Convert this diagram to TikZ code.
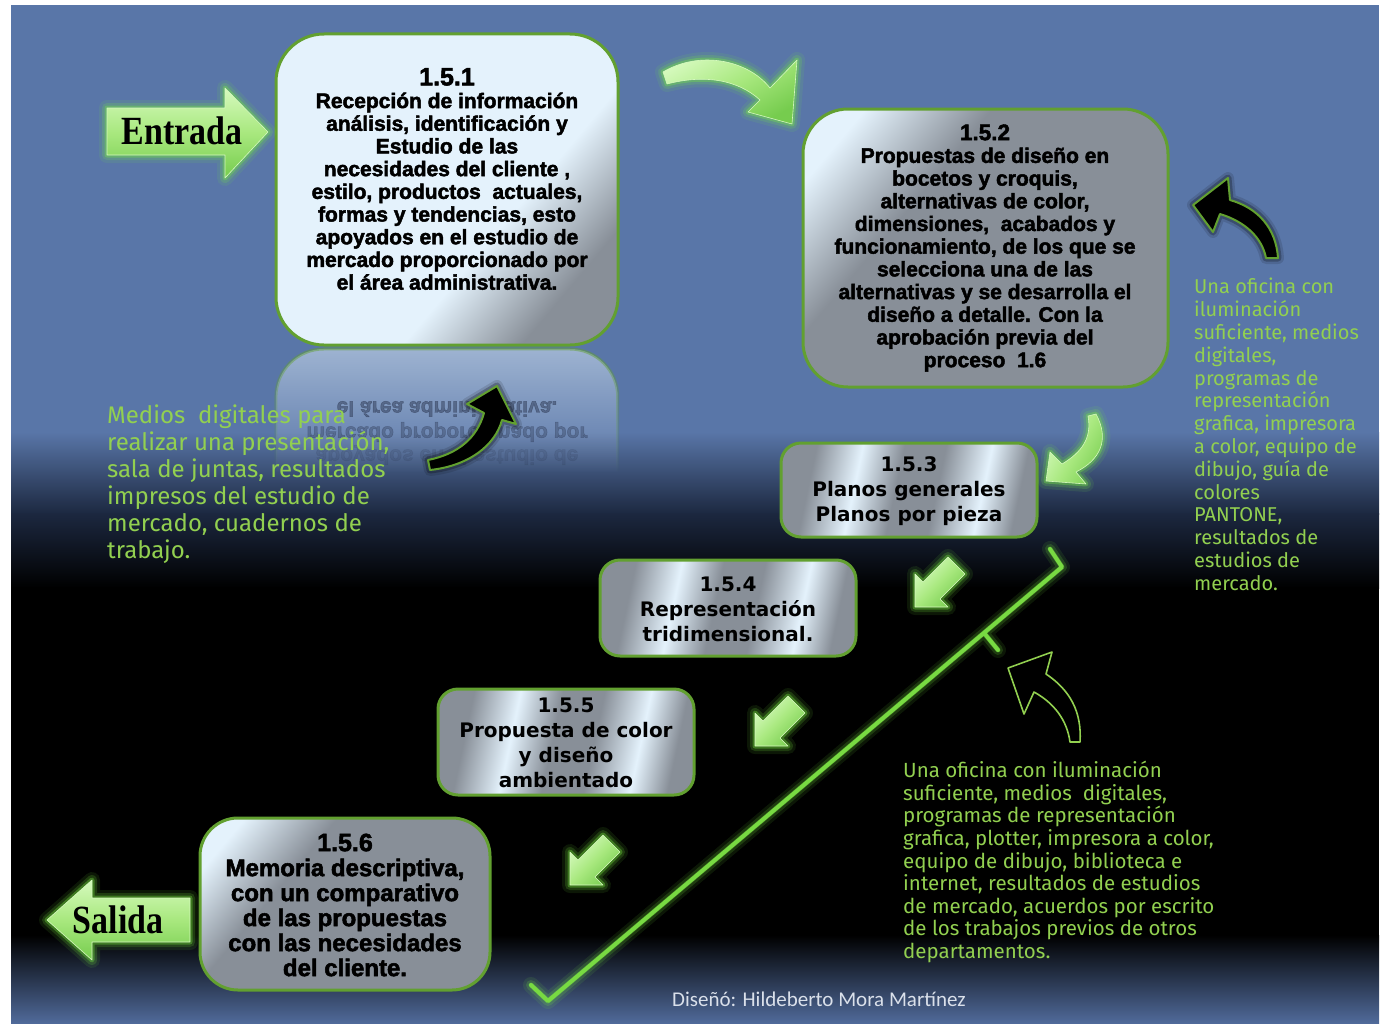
\documentclass[tikz,border=0pt]{standalone}
\usepackage{fontspec}
\usepackage{graphicx}
\setmainfont{Liberation Sans}
\newfontfamily\arialfont{Liberation Sans Bold}[FakeBold=2.2]
\newfontfamily\verdfont{DejaVu Sans}
\newfontfamily\serifcond{Liberation Serif}[FakeStretch=0.85]
\newfontfamily\handfont{Fira Sans}
\newfontfamily\calfont{Carlito}
\usetikzlibrary{fadings}

\definecolor{bgblue}{RGB}{89,118,168}
\definecolor{bgdeep}{RGB}{28,40,64}
\definecolor{bgfoot}{RGB}{80,106,154}
\definecolor{lgreen}{RGB}{146,208,80}
\definecolor{edgegreen}{RGB}{98,160,48}
\definecolor{glowc}{RGB}{118,232,64}
\definecolor{linegreen}{RGB}{120,218,66}
\definecolor{boxlt}{RGB}{228,242,252}
\definecolor{boxgr}{RGB}{136,143,152}
\definecolor{arrowlt}{RGB}{214,250,190}
\definecolor{arrowmid}{RGB}{168,232,126}
\definecolor{arrowdk}{RGB}{118,204,78}
\definecolor{mirrortext}{RGB}{38,48,74}
\definecolor{footc}{RGB}{218,224,234}

% box fillings: light corner, dark corner, brushed metal
\pgfdeclarehorizontalshading{shOne}{100bp}{color(0bp)=(boxlt); color(60bp)=(boxlt); color(74bp)=(boxgr); color(100bp)=(boxgr)}
\pgfdeclarehorizontalshading{shTwo}{100bp}{color(0bp)=(boxlt); color(22bp)=(boxlt); color(37bp)=(boxgr); color(100bp)=(boxgr)}
\pgfdeclarehorizontalshading{shMetal}{100bp}{color(0bp)=(boxgr); color(28bp)=(boxgr); color(38bp)=(boxlt); color(47bp)=(boxgr); color(56bp)=(boxgr); color(66bp)=(boxlt); color(74bp)=(boxgr); color(100bp)=(boxgr)}

\tikzfading[name=fadedown, top color=transparent!50, bottom color=transparent!100]

\tikzset{
  procbox/.style={draw=edgegreen, line width=3pt},
  glow/.style={
    preaction={draw=glowc, line width=16pt, draw opacity=.10, line join=round, line cap=round},
    preaction={draw=glowc, line width=10pt, draw opacity=.18, line join=round, line cap=round},
    preaction={draw=glowc, line width=5pt, draw opacity=.35, line join=round, line cap=round}},
  darkglow/.style={
    preaction={draw=black, line width=12pt, draw opacity=.12, line join=round},
    preaction={draw=black, line width=7pt, draw opacity=.25, line join=round}},
  greenarrow/.style={glow, top color=arrowlt, bottom color=arrowdk, middle color=arrowmid,
    draw=arrowlt, line width=.6pt, line join=round},
  blackarrow/.style={darkglow, fill=black, draw=edgegreen, line width=2pt, line join=round},
  boxtext/.style={align=center, inner sep=0pt, text=black},
  handtext/.style={align=left, anchor=north west, inner sep=0pt, text=lgreen},
  pics/slantarrow/.style={code={
    \path[greenarrow, shading angle=45] (0,0) -- (33,0) -- (25,-8) -- (50,-33)
      -- (33,-50) -- (8,-25) -- (0,-33) -- cycle;}}
}

\begin{document}
\begin{tikzpicture}[x=1pt, y=-1pt]
\useasboundingbox (0,0) rectangle (1384,1025);

% slide background
\fill[white] (0,0) rectangle (1384,1025);
\fill[bgblue] (11,5) rectangle (1379,1023);
\shade[top color=bgblue, bottom color=bgdeep] (11,432) rectangle (1379,514);
\shade[top color=bgdeep, bottom color=black] (11,513) rectangle (1379,588);
\fill[black] (11,587) rectangle (1379,936);
\shade[top color=black, bottom color=bgfoot] (11,935) rectangle (1379,1023);

% mirror image under the first box
\path[fill=boxlt, draw=edgegreen, line width=3pt, path fading=fadedown, rounded corners=48pt]
  (276,472) -- (276,349) -- (618,349) -- (618,472);
\node[boxtext, font=\arialfont\fontsize{21}{22.7}\selectfont, text=mirrortext, opacity=.45]
  (m1) at (447,409) {\scalebox{1}[-1]{el área administrativa.}};
\node[boxtext, font=\arialfont\fontsize{21}{22.7}\selectfont, text=mirrortext, opacity=.32]
  (m2) at (447,432) {\scalebox{1}[-1]{mercado proporcionado por}};
\node[boxtext, font=\arialfont\fontsize{21}{22.7}\selectfont, text=mirrortext, opacity=.14]
  (m3) at (447,455) {\scalebox{1}[-1]{apoyados en el estudio de}};

% process boxes
\node[procbox, rounded corners=48pt, minimum width=342pt, minimum height=311pt,
  shading=shOne, shading angle=-40] (b1) at (447,189.5) {};
\node[procbox, rounded corners=45pt, minimum width=365pt, minimum height=278pt,
  shading=shTwo, shading angle=-40] (b2) at (985.5,248) {};
\node[procbox, rounded corners=20pt, minimum width=256pt, minimum height=94pt,
  shading=shMetal, shading angle=-12] (b3) at (909,490) {};
\node[procbox, rounded corners=20pt, minimum width=256pt, minimum height=96pt,
  shading=shMetal, shading angle=-12] (b4) at (728,608) {};
\node[procbox, rounded corners=20pt, minimum width=256pt, minimum height=106pt,
  shading=shMetal, shading angle=-12] (b5) at (566,742) {};
\node[procbox, rounded corners=38pt, minimum width=290pt, minimum height=172pt,
  shading=shTwo, shading angle=-40] (b6) at (345,904) {};

% box texts
\node[boxtext, font=\arialfont\fontsize{21}{22.7}\selectfont] (t1) at (447,179)
  {{\fontsize{25}{22.7}\selectfont 1.5.1}\\Recepción de información\\análisis, identificación y\\Estudio de las\\necesidades del cliente ,\\estilo, productos\ \ actuales,\\formas y tendencias, esto\\apoyados en el estudio de\\mercado proporcionado por\\el área administrativa.};
\node[boxtext, font=\arialfont\fontsize{21}{22.7}\selectfont] (t2) at (985,248)
  {{\fontsize{22.5}{22.7}\selectfont 1.5.2}\\Propuestas de diseño en\\bocetos y croquis,\\alternativas de color,\\dimensiones,\ \ acabados y\\funcionamiento, de los que se\\selecciona una de las\\alternativas y se desarrolla el\\diseño a detalle. Con la\\aprobación previa del\\proceso\ \ 1.6};
\node[boxtext, font=\verdfont\bfseries\fontsize{20}{25}\selectfont] (t3) at (909,491)
  {1.5.3\\Planos generales\\Planos por pieza};
\node[boxtext, font=\verdfont\bfseries\fontsize{20}{25}\selectfont] (t4) at (728,609)
  {1.5.4\\Representación\\tridimensional.};
\node[boxtext, font=\verdfont\bfseries\fontsize{20}{25}\selectfont] (t5) at (566,743)
  {1.5.5\\Propuesta de color\\y diseño\\ambientado};
\node[boxtext, font=\arialfont\fontsize{24}{25}\selectfont] (t6) at (345,905)
  {{\fontsize{25}{25}\selectfont 1.5.6}\\Memoria descriptiva,\\con un comparativo\\de las propuestas\\con las necesidades\\del cliente.};

% input / output block arrows
\path[greenarrow] (107,108) -- (225,108) -- (225,88) -- (268,132) -- (225,178) -- (225,155) -- (107,155) -- cycle;
\node[font=\serifcond\bfseries\fontsize{40}{40}\selectfont, text=black, inner sep=0pt] (entrada) at (182,131) {Entrada};
\path[greenarrow] (190,898) -- (92,898) -- (92,880) -- (47,920) -- (92,960) -- (92,942) -- (190,942) -- cycle;
\node[font=\serifcond\bfseries\fontsize{40}{40}\selectfont, text=black, inner sep=0pt] (salida) at (118,920) {Salida};

% curved green arrows between boxes
\path[greenarrow, shading angle=30] (663,72) .. controls (700,50) and (748,60) .. (770,88)
  -- (797,60) -- (792,124) -- (748,112) -- (760,100) .. controls (738,80) and (705,74) .. (667,84) -- cycle;
\path[greenarrow, shading angle=60] (1096,414) .. controls (1110,440) and (1100,460) .. (1076,472)
  -- (1086,484) -- (1046,481) -- (1050,452) -- (1062,464) .. controls (1082,452) and (1092,438) .. (1088,416) -- cycle;

% straight arrows down the staircase
\pic (sa1) at (915,607) {slantarrow};
\pic (sa2) at (755,746) {slantarrow};
\pic (sa3) at (570,885) {slantarrow};

% resource arrows
\path[blackarrow] (1278,258) .. controls (1276,228) and (1258,208) .. (1230,200)
  -- (1228,178) -- (1193,205) -- (1213,232) -- (1220,214) .. controls (1246,222) and (1262,238) .. (1266,258) -- cycle;
\path[blackarrow] (430,470) .. controls (468,466) and (495,446) .. (502,420)
  -- (516,424) -- (497,386) -- (467,404) -- (484,413) .. controls (477,438) and (458,454) .. (428,460) -- cycle;
\path[fill=black, draw=lgreen, line width=1.6pt, line join=round] (1080,742) .. controls (1082,712) and (1070,690) .. (1046,674)
  -- (1052,652) -- (1008,668) -- (1024,714) -- (1034,692) .. controls (1054,703) and (1067,720) .. (1070,742) -- cycle;

% glowing bracket line
\coordinate (ck1) at (531,985);
\coordinate (ck2) at (548,1001);
\coordinate (ck3) at (1062,567);
\coordinate (ck4) at (1050,549);
\coordinate (ck5) at (984,633);
\coordinate (ck6) at (998,650);
\draw[glow, draw=linegreen, line width=4pt, line cap=round, line join=round]
  (ck1) -- (ck2) -- (ck3) -- (ck4) (ck5) -- (ck6);

% resource notes
\node[handtext, font=\handfont\fontsize{24}{27}\selectfont] (r1) at (107,405)
  {Medios\ \ digitales para\\realizar una presentación,\\sala de juntas, resultados\\impresos del estudio de\\mercado, cuadernos de\\trabajo.};
\node[handtext, font=\handfont\fontsize{20}{22.8}\selectfont] (r2) at (1194,278)
  {Una oficina con\\iluminación\\suficiente, medios\\digitales,\\programas de\\representación\\grafica, impresora\\a color, equipo de\\dibujo, guía de\\colores\\PANTONE,\\resultados de\\estudios de\\mercado.};
\node[handtext, font=\handfont\fontsize{20.5}{22.6}\selectfont] (r3) at (903,761)
  {Una oficina con iluminación\\suficiente, medios\ \ digitales,\\programas de representación\\grafica, plotter, impresora a color,\\equipo de dibujo, biblioteca e\\internet, resultados de estudios\\de mercado, acuerdos por escrito\\de los trabajos previos de otros\\departamentos.};

% credit line
\node[font=\calfont\fontsize{21}{24}\selectfont, text=footc, anchor=base west, inner sep=0pt] (credit) at (672,1006)
  {Diseñó: Hildeberto Mora Martínez};
\end{tikzpicture}
\end{document}
